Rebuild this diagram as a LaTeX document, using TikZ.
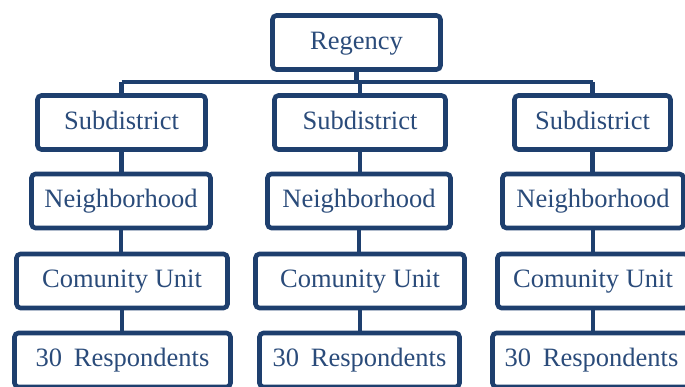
\documentclass[tikz,border=0pt]{standalone}
\usepackage{fontspec}
\setmainfont{Liberation Serif}
\definecolor{navy}{HTML}{1E3F6E}
\definecolor{navytext}{HTML}{2A4B7A}
\begin{document}
\begin{tikzpicture}[x=1pt,y=-1pt,
  unit/.style={draw=navy, line width=4.6pt, rounded corners=4pt, fill=white,
    inner sep=0pt, text=navytext, font=\fontsize{26.5}{30}\selectfont,
    text height=19pt, text depth=5.4pt, minimum height=54pt},
  link/.style={draw=navy, line width=4.3pt}]
\useasboundingbox (0,0) rectangle (685,387);

% top level
\node[unit, minimum width=168pt] (reg) at (356.5,42.5) {Regency};

% subdistricts
\node[unit, minimum width=168pt] (sub1) at (121.5,122.5) {Subdistrict};
\node[unit, minimum width=171pt] (sub2) at (360,122.5) {Subdistrict};
\node[unit, minimum width=156pt] (sub3) at (592.5,122.5) {Subdistrict};

% neighborhoods
\node[unit, minimum width=179pt] (nb1) at (121,201) {Neighborhood};
\node[unit, minimum width=183pt] (nb2) at (359,201) {Neighborhood};
\node[unit, minimum width=181pt] (nb3) at (593,201) {Neighborhood};

% community units
\node[unit, minimum width=211pt] (cu1) at (122,281) {Comunity Unit};
\node[unit, minimum width=209pt] (cu2) at (360,281) {Comunity Unit};
\node[unit, minimum width=191pt] (cu3) at (593,281) {Comunity Unit};

% respondents
\node[unit, minimum width=216pt] (rs1) at (122.5,360) {30\hspace{0.45em}Respondents};
\node[unit, minimum width=200pt] (rs2) at (359.5,360) {30\hspace{0.45em}Respondents};
\node[unit, minimum width=198pt] (rs3) at (591.5,360) {30\hspace{0.45em}Respondents};

% horizontal bus below the regency
\coordinate (busL) at (121.5,82);
\coordinate (busR) at (593,82);

\draw[link] (busL) -- (busR);
\draw[link] (reg.south) -- (reg.south |- busL);
\foreach \c in {1,2,3}{
  \draw[link] (sub\c.north) -- (sub\c.north |- busL);
  \draw[link] (sub\c.south) -- (sub\c.south |- nb\c.north);
  \draw[link] (nb\c.south) -- (nb\c.south |- cu\c.north);
  \draw[link] (cu\c.south) -- (cu\c.south |- rs\c.north);
}
\end{tikzpicture}
\end{document}
